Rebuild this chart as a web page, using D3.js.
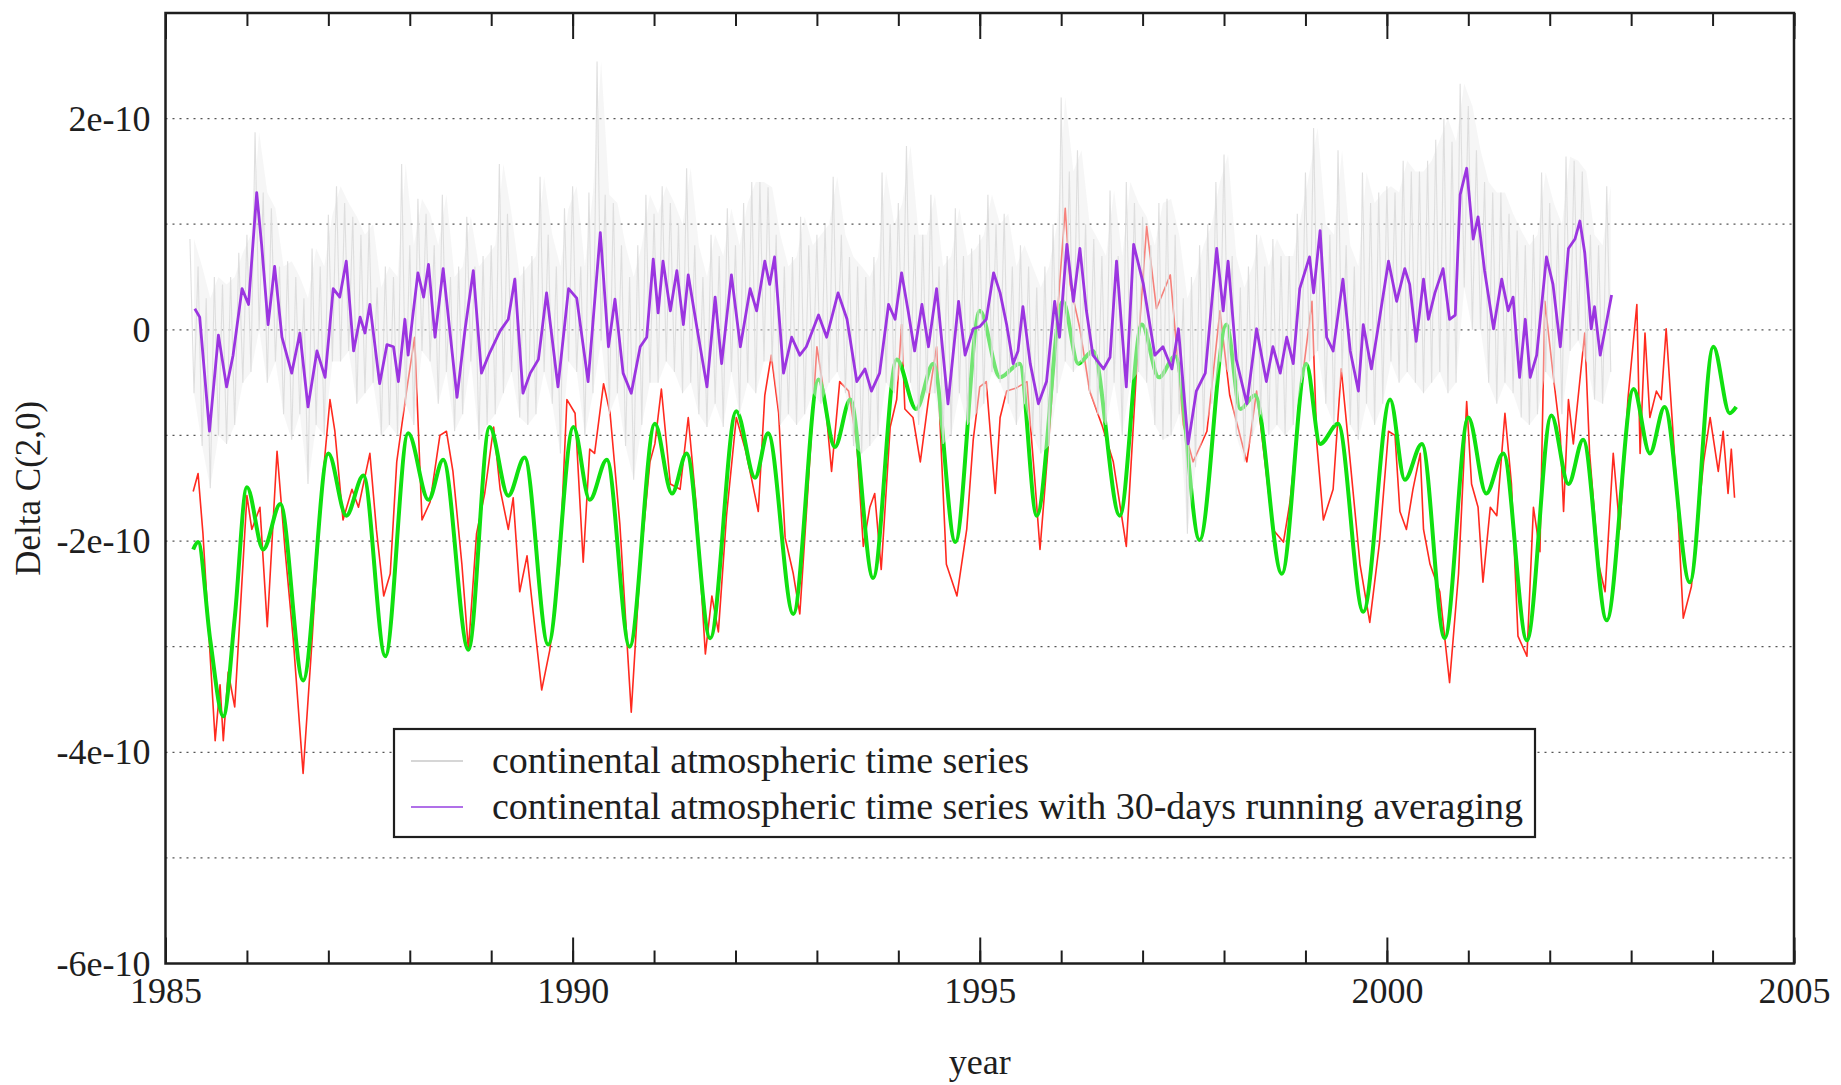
<!DOCTYPE html>
<html>
<head>
<meta charset="utf-8">
<script src="https://cdn.jsdelivr.net/npm/d3@7/dist/d3.min.js"></script>
<style>
  body { margin: 0; background: #fff; }
  svg text { font-family: "Liberation Serif", "DejaVu Serif", serif; fill: #1e1e1e; }
</style>
</head>
<body>
<div id="chart"></div>
<script>
// Valori, in unità di 1e-10
const UNIT = 1e-10;

// Serie grigia (giornaliera): inviluppo alto/basso per intervalli di 0.1 anni
const greyStart = 1985.3;
const greyStep = 0.1;
const greyHigh = [
  0.86, 0.6, 0.3, 0.5, 0.43, 0.5, 0.73,
  0.9, 1.87, 1.3, 1.15, 0.6, 0.65, 0.5, 0.3, 0.77, 0.6,
  1.09, 1.36, 1.2, 1.07, 0.9, 1.0, 0.4, 0.6, 0.5, 1.57,
  0.8, 1.24, 1.1, 0.8, 1.28, 0.5, 0.6, 1.07, 0.6, 0.7,
  0.8, 1.57, 1.1, 0.5, 0.6, 0.7, 1.45, 0.9, 0.6, 1.15,
  1.36, 0.6, 1.3, 2.54, 1.28, 1.2, 0.8, 0.5, 0.8, 1.28,
  1.1, 1.36, 1.2, 1.0, 1.53, 0.8, 0.5, 0.9, 0.7, 1.15,
  0.8, 1.2, 1.4, 1.4, 1.35, 0.9, 0.6, 0.69, 1.07, 0.8,
  0.9, 1.0, 1.45, 0.9, 0.69, 0.6, 0.5, 0.69, 1.49, 1.0,
  1.2, 1.74, 0.9, 0.9, 1.28, 0.6, 0.7, 1.15, 0.7, 0.77,
  0.9, 1.28, 1.0, 1.1, 0.6, 0.8, 0.6, 0.4, 0.6, 1.0,
  2.2, 1.5, 1.7, 1.0, 0.86, 0.7, 1.32, 0.7, 1.4, 1.2,
  1.07, 0.8, 1.2, 1.24, 0.9, 0.3, 0.5, 0.8, 1.0, 1.4,
  1.66, 0.7, 0.4, 0.6, 0.9, 0.6, 0.86, 0.7, 0.7, 1.1,
  1.49, 1.91, 1.0, 0.9, 1.7, 0.8, 0.6, 1.49, 1.2, 1.3,
  1.36, 1.3, 1.6, 1.5, 1.5, 1.6, 1.8, 2.0, 1.78, 2.33,
  2.12, 1.7, 1.4, 1.3, 1.3, 1.1, 0.94, 0.8, 0.9, 1.49,
  1.2, 1.0, 1.64, 1.6, 1.5, 0.9, 0.8, 1.36
];
const greyLow = [
  -0.6, -1.1, -1.5, -1.0, -1.08, -0.9, -0.5,
  -0.4, 0.0, -0.5, -0.3, -0.8, -1.04, -0.8, -1.46, -0.9, -1.0,
  -0.3, -0.3, -0.2, -0.7, -0.6, -0.5, -1.0, -0.9, -1.0, -0.7,
  -0.9, -0.2, -0.3, -0.7, -0.4, -0.96, -0.8, -0.3, -1.04, -0.9,
  -0.8, -0.6, -0.4, -0.83, -0.9, -0.8, -0.4, -0.7, -1.17, -0.3,
  -0.4, -1.0, -0.6, -0.1, -0.8, -0.6, -1.1, -1.42, -0.9, -0.5,
  -0.5, -0.3, -0.4, -0.6, -0.5, -0.8, -0.92, -0.7, -0.92, -0.4,
  -0.8, -0.5, -0.6, -0.3, -0.3, -0.9, -0.8, -0.9, -0.8, -0.6,
  -0.7, -0.5, -0.4, -0.6, -1.1, -1.17, -1.1, -1.0, -0.5, -0.6,
  -0.3, -0.5, -0.9, -0.6, -0.6, -1.08, -1.0, -0.6, -0.9, -0.8,
  -0.7, -0.4, -0.5, -0.7, -0.9, -0.7, -1.0, -1.17, -1.1, -0.6,
  -0.3, -0.4, -0.3, -0.6, -0.8, -0.9, -0.5, -1.0, -0.5, -0.4,
  -0.5, -0.9, -1.04, -1.0, -0.8, -1.93, -1.3, -1.0, -0.7, -0.3,
  -0.4, -1.0, -1.25, -1.0, -0.8, -1.0, -0.9, -1.0, -0.9, -0.5,
  -0.3, -0.2, -0.7, -0.9, -0.4, -0.9, -1.04, -0.7, -0.9, -0.7,
  -0.3, -0.5, -0.4, -0.5, -0.6, -0.5, -0.4, -0.6, -0.5, 0.4,
  0.0, 0.0, -0.5, -0.7, -0.5, -0.6, -0.83, -0.9, -0.8, -0.4,
  -0.5, -0.8, -0.2, -0.1, -0.3, -0.66, -0.7, -0.4
];

// Serie viola: media mobile su 30 giorni [anno, valore]
const purpleSeries = [
  [1985.36,0.20],[1985.42,0.12],[1985.54,-0.96],[1985.65,-0.05],[1985.75,-0.54],[1985.83,-0.24],[1985.94,0.39],
  [1986.02,0.24],[1986.12,1.30],[1986.18,0.81],[1986.26,0.05],[1986.34,0.60],[1986.43,-0.07],[1986.55,-0.41],
  [1986.65,-0.03],[1986.75,-0.73],[1986.86,-0.20],[1986.96,-0.45],[1987.06,0.39],[1987.14,0.31],[1987.22,0.65],
  [1987.31,-0.20],[1987.39,0.12],[1987.45,-0.03],[1987.51,0.24],[1987.63,-0.51],[1987.72,-0.14],[1987.80,-0.16],
  [1987.86,-0.49],[1987.94,0.10],[1987.98,-0.24],[1988.10,0.54],[1988.17,0.31],[1988.23,0.62],[1988.31,-0.07],
  [1988.41,0.58],[1988.58,-0.64],[1988.68,0.01],[1988.78,0.56],[1988.88,-0.41],[1988.98,-0.22],[1989.11,-0.01],
  [1989.21,0.10],[1989.29,0.48],[1989.39,-0.60],[1989.48,-0.41],[1989.58,-0.28],[1989.68,0.35],[1989.74,-0.03],
  [1989.82,-0.54],[1989.95,0.39],[1990.05,0.30],[1990.19,-0.49],[1990.34,0.92],[1990.44,-0.16],[1990.52,0.29],
  [1990.62,-0.41],[1990.72,-0.60],[1990.83,-0.16],[1990.91,-0.07],[1990.99,0.67],[1991.05,0.16],[1991.11,0.65],
  [1991.20,0.18],[1991.28,0.56],[1991.36,0.05],[1991.42,0.52],[1991.52,0.05],[1991.65,-0.54],[1991.75,0.31],
  [1991.83,-0.32],[1991.95,0.52],[1992.06,-0.16],[1992.18,0.39],[1992.26,0.18],[1992.36,0.65],[1992.42,0.43],
  [1992.48,0.69],[1992.59,-0.41],[1992.69,-0.07],[1992.79,-0.24],[1992.87,-0.16],[1993.02,0.14],[1993.12,-0.07],
  [1993.26,0.35],[1993.37,0.10],[1993.49,-0.49],[1993.59,-0.37],[1993.67,-0.58],[1993.77,-0.41],[1993.88,0.24],
  [1993.96,0.10],[1994.04,0.54],[1994.12,0.18],[1994.20,-0.20],[1994.29,0.24],[1994.37,-0.16],[1994.47,0.39],
  [1994.61,-0.70],[1994.74,0.27],[1994.82,-0.24],[1994.92,0.01],[1995.00,0.03],[1995.08,0.10],[1995.17,0.54],
  [1995.25,0.35],[1995.33,0.05],[1995.41,-0.32],[1995.47,-0.20],[1995.53,0.22],[1995.62,-0.32],[1995.72,-0.70],
  [1995.82,-0.49],[1995.92,0.27],[1995.98,-0.07],[1996.07,0.81],[1996.15,0.27],[1996.23,0.77],[1996.31,0.18],
  [1996.39,-0.24],[1996.52,-0.37],[1996.60,-0.26],[1996.68,0.65],[1996.80,-0.54],[1996.89,0.81],[1997.01,0.43],
  [1997.15,-0.24],[1997.25,-0.16],[1997.36,-0.37],[1997.44,0.01],[1997.56,-1.08],[1997.66,-0.58],[1997.77,-0.41],
  [1997.91,0.77],[1997.99,0.18],[1998.05,0.65],[1998.15,-0.28],[1998.28,-0.70],[1998.40,0.01],[1998.52,-0.49],
  [1998.60,-0.16],[1998.69,-0.41],[1998.77,-0.07],[1998.85,-0.32],[1998.93,0.39],[1999.05,0.69],[1999.10,0.35],
  [1999.18,0.94],[1999.26,-0.07],[1999.34,-0.20],[1999.46,0.48],[1999.55,-0.20],[1999.65,-0.58],[1999.71,0.05],
  [1999.81,-0.37],[1999.89,0.01],[2000.02,0.65],[2000.12,0.27],[2000.22,0.58],[2000.28,0.43],[2000.36,-0.11],
  [2000.45,0.48],[2000.51,0.10],[2000.59,0.35],[2000.69,0.58],[2000.77,0.10],[2000.84,0.14],[2000.90,1.28],
  [2000.98,1.53],[2001.06,0.86],[2001.12,1.07],[2001.20,0.56],[2001.31,0.01],[2001.41,0.48],[2001.49,0.18],
  [2001.55,0.31],[2001.63,-0.45],[2001.70,0.10],[2001.76,-0.45],[2001.84,-0.24],[2001.96,0.69],[2002.04,0.43],
  [2002.13,-0.16],[2002.23,0.77],[2002.31,0.86],[2002.37,1.03],[2002.43,0.73],[2002.51,0.01],[2002.55,0.22],
  [2002.62,-0.24],[2002.76,0.33]
];

// Serie rossa [anno, valore]
const redSeries = [
  [1985.34,-1.53],[1985.40,-1.36],[1985.46,-1.93],[1985.61,-3.89],[1985.67,-3.36],[1985.71,-3.89],[1985.77,-3.24],
  [1985.85,-3.57],[1986.00,-1.57],[1986.06,-1.89],[1986.16,-1.68],[1986.25,-2.81],[1986.37,-1.15],[1986.47,-2.10],
  [1986.57,-2.94],[1986.69,-4.20],[1986.80,-2.94],[1986.90,-1.68],[1987.02,-0.66],[1987.08,-0.96],[1987.18,-1.80],
  [1987.29,-1.51],[1987.37,-1.68],[1987.51,-1.17],[1987.59,-1.89],[1987.68,-2.52],[1987.76,-2.31],[1987.84,-1.25],
  [1987.96,-0.58],[1988.06,-0.07],[1988.15,-1.80],[1988.25,-1.63],[1988.37,-1.00],[1988.45,-0.96],[1988.53,-1.34],
  [1988.64,-2.22],[1988.72,-3.03],[1988.82,-1.93],[1988.92,-1.55],[1989.03,-0.92],[1989.11,-1.51],[1989.21,-1.89],
  [1989.27,-1.59],[1989.35,-2.48],[1989.44,-2.14],[1989.62,-3.41],[1989.72,-3.03],[1989.84,-2.22],[1989.93,-0.66],
  [1990.03,-0.79],[1990.13,-2.20],[1990.21,-1.13],[1990.27,-1.17],[1990.38,-0.51],[1990.46,-0.79],[1990.58,-1.84],
  [1990.72,-3.62],[1990.83,-2.22],[1990.95,-1.25],[1991.01,-1.08],[1991.09,-0.56],[1991.20,-1.46],[1991.32,-1.51],
  [1991.42,-0.83],[1991.52,-1.68],[1991.63,-3.07],[1991.71,-2.52],[1991.79,-2.86],[1991.89,-1.76],[1992.01,-0.83],
  [1992.12,-1.13],[1992.20,-1.42],[1992.28,-1.72],[1992.36,-0.62],[1992.44,-0.24],[1992.53,-0.79],[1992.61,-1.97],
  [1992.71,-2.31],[1992.79,-2.69],[1992.89,-1.51],[1993.00,-0.16],[1993.10,-0.66],[1993.18,-1.34],[1993.28,-0.49],
  [1993.39,-0.58],[1993.49,-1.08],[1993.57,-2.05],[1993.65,-1.68],[1993.71,-1.55],[1993.79,-2.27],[1993.90,-0.92],
  [1993.98,-0.66],[1994.04,0.05],[1994.08,-0.75],[1994.18,-0.83],[1994.27,-1.25],[1994.37,-0.66],[1994.47,-0.16],
  [1994.59,-2.22],[1994.72,-2.52],[1994.84,-1.89],[1994.92,-1.04],[1995.00,-0.54],[1995.08,-0.49],[1995.19,-1.55],
  [1995.25,-0.83],[1995.33,-0.58],[1995.45,-0.55],[1995.58,-0.49],[1995.68,-1.46],[1995.74,-2.08],[1995.86,-0.92],
  [1995.98,0.43],[1996.05,1.15],[1996.11,0.43],[1996.23,0.01],[1996.35,-0.58],[1996.50,-0.90],[1996.64,-1.25],
  [1996.80,-2.05],[1996.93,-0.32],[1997.05,0.98],[1997.17,0.20],[1997.34,0.52],[1997.50,-0.90],[1997.62,-1.25],
  [1997.79,-0.96],[1997.95,0.18],[1998.07,-0.62],[1998.28,-1.25],[1998.40,-0.58],[1998.60,-1.89],[1998.73,-2.01],
  [1998.81,-1.63],[1998.97,-0.41],[1999.08,0.27],[1999.14,-1.08],[1999.22,-1.80],[1999.34,-1.51],[1999.44,-0.37],
  [1999.55,-1.25],[1999.67,-2.22],[1999.79,-2.77],[1999.91,-2.01],[2000.02,-0.96],[2000.10,-1.00],[2000.16,-1.72],
  [2000.24,-1.89],[2000.32,-1.51],[2000.41,-1.17],[2000.45,-1.89],[2000.53,-2.22],[2000.65,-2.48],[2000.77,-3.34],
  [2000.88,-2.31],[2000.98,-0.68],[2001.04,-1.46],[2001.12,-1.68],[2001.18,-2.39],[2001.27,-1.68],[2001.35,-1.76],
  [2001.45,-0.79],[2001.53,-1.46],[2001.61,-2.90],[2001.72,-3.09],[2001.80,-1.68],[2001.88,-2.10],[2001.94,0.27],
  [2002.04,-0.41],[2002.13,-1.00],[2002.17,-1.72],[2002.23,-0.66],[2002.29,-1.08],[2002.43,-0.03],[2002.49,-1.17],
  [2002.60,-2.22],[2002.68,-2.48],[2002.78,-1.17],[2002.86,-1.89],[2002.96,-0.66],[2003.07,0.24],[2003.11,-1.17],
  [2003.17,-0.03],[2003.23,-0.83],[2003.31,-0.58],[2003.37,-0.66],[2003.43,0.01],[2003.56,-1.51],[2003.64,-2.73],
  [2003.74,-2.43],[2003.89,-1.25],[2003.97,-0.83],[2004.07,-1.34],[2004.13,-0.96],[2004.19,-1.55],[2004.23,-1.13],
  [2004.27,-1.59]
];

// Serie verde (liscia) [anno, valore]
const greenSeries = [
  [1985.34,-2.08],[1985.40,-2.01],[1985.55,-2.94],[1985.71,-3.66],[1985.85,-2.73],[1986.00,-1.49],[1986.20,-2.08],
  [1986.41,-1.65],[1986.69,-3.32],[1987.00,-1.17],[1987.22,-1.76],[1987.43,-1.38],[1987.70,-3.09],[1987.98,-0.98],
  [1988.23,-1.61],[1988.41,-1.23],[1988.72,-3.03],[1988.98,-0.92],[1989.21,-1.57],[1989.41,-1.21],[1989.70,-2.98],
  [1990.01,-0.92],[1990.21,-1.61],[1990.42,-1.23],[1990.70,-3.00],[1991.01,-0.89],[1991.22,-1.55],[1991.40,-1.17],
  [1991.69,-2.92],[1992.01,-0.77],[1992.24,-1.40],[1992.40,-0.98],[1992.71,-2.69],[1993.02,-0.47],[1993.22,-1.11],
  [1993.41,-0.66],[1993.69,-2.35],[1993.98,-0.28],[1994.22,-0.75],[1994.43,-0.32],[1994.70,-2.01],[1995.00,0.18],
  [1995.25,-0.45],[1995.49,-0.32],[1995.70,-1.76],[1996.02,0.27],[1996.21,-0.32],[1996.39,-0.20],[1996.72,-1.76],
  [1996.99,0.05],[1997.20,-0.45],[1997.40,-0.25],[1997.70,-1.99],[1998.03,0.05],[1998.20,-0.75],[1998.38,-0.62],
  [1998.71,-2.31],[1999.01,-0.32],[1999.18,-1.08],[1999.40,-0.89],[1999.71,-2.67],[2000.04,-0.66],[2000.22,-1.42],
  [2000.43,-1.08],[2000.71,-2.92],[2001.00,-0.83],[2001.22,-1.55],[2001.43,-1.17],[2001.72,-2.94],[2002.02,-0.81],
  [2002.23,-1.46],[2002.41,-1.04],[2002.70,-2.75],[2003.03,-0.56],[2003.23,-1.17],[2003.41,-0.73],[2003.72,-2.39],
  [2004.01,-0.16],[2004.21,-0.79],[2004.29,-0.73]
];

// Assi: etichette e tacche
const xDomain = [1985, 2005];
const yDomain = [-6, 3];
const xMajorTicks = [1985, 1990, 1995, 2000, 2005];
const xMinorTicks = d3.range(1985, 2006);
const yTickValues = [-6, -4, -2, 0, 2];
const yGridValues = [-5, -4, -3, -2, -1, 0, 1, 2];
const legendLabels = [
  "continental atmospheric time series",
  "continental atmospheric time series with 30-days running averaging"
];

// Dimensioni
const width = 1841;
const height = 1085;
const plot = { left: 165.5, right: 1794, top: 13, bottom: 963.5 };

const x = d3.scaleLinear().domain(xDomain).range([plot.left, plot.right]);
const y = d3.scaleLinear().domain(yDomain).range([plot.bottom, plot.top]);

const svg = d3.select("#chart").append("svg")
  .attr("width", width).attr("height", height);

svg.append("rect").attr("width", width).attr("height", height).attr("fill", "#fff");

// Griglia orizzontale tratteggiata
svg.append("g").selectAll("line")
  .data(yGridValues)
  .join("line")
  .attr("x1", plot.left).attr("x2", plot.right)
  .attr("y1", (d) => y(d)).attr("y2", (d) => y(d))
  .attr("stroke", "#555")
  .attr("stroke-width", 1.3)
  .attr("stroke-dasharray", "2,5");

const line = d3.line().x((d) => x(d[0])).y((d) => y(d[1]));

// Serie rossa
svg.append("path")
  .datum(redSeries)
  .attr("d", line)
  .attr("fill", "none")
  .attr("stroke", "#ff2a1f")
  .attr("stroke-width", 1.6)
  .attr("stroke-linejoin", "round");

// Serie verde
svg.append("path")
  .datum(greenSeries)
  .attr("d", line.curve(d3.curveMonotoneX))
  .attr("fill", "none")
  .attr("stroke", "#10e010")
  .attr("stroke-width", 4);
line.curve(d3.curveLinear);

// Serie grigia: banda leggera + zig-zag tra massimi e minimi
const greyBins = greyHigh.map((h, i) => ({
  t: greyStart + i * greyStep,
  hi: h,
  lo: greyLow[i]
}));

svg.append("path")
  .datum(greyBins)
  .attr("d", d3.area()
    .x((d) => x(d.t + greyStep / 2))
    .y0((d) => y(d.lo))
    .y1((d) => y(d.hi)))
  .attr("fill", "#ececec")
  .attr("fill-opacity", 0.45);

const greyZigzag = [];
greyBins.forEach((d) => {
  greyZigzag.push([d.t, d.hi]);
  greyZigzag.push([d.t + greyStep / 2, d.lo]);
});

svg.append("path")
  .datum(greyZigzag)
  .attr("d", line)
  .attr("fill", "none")
  .attr("stroke", "#dcdcdc")
  .attr("stroke-opacity", 0.9)
  .attr("stroke-width", 1.1);

// Serie viola
svg.append("path")
  .datum(purpleSeries)
  .attr("d", line)
  .attr("fill", "none")
  .attr("stroke", "#9b35e0")
  .attr("stroke-width", 2.8)
  .attr("stroke-linejoin", "round");

// Cornice
svg.append("rect")
  .attr("x", plot.left).attr("y", plot.top)
  .attr("width", plot.right - plot.left)
  .attr("height", plot.bottom - plot.top)
  .attr("fill", "none")
  .attr("stroke", "#1e1e1e")
  .attr("stroke-width", 2.5);

// Tacche asse x (sotto e sopra, verso l'interno)
function styleAxis(g) {
  g.select(".domain").remove();
  g.selectAll("line").attr("stroke", "#1e1e1e").attr("stroke-width", 2);
  g.selectAll("text")
    .attr("fill", "#1e1e1e")
    .style("font-family", '"Liberation Serif", "DejaVu Serif", serif')
    .style("font-size", "36px");
}

svg.append("g")
  .attr("transform", `translate(0,${plot.bottom})`)
  .call(d3.axisBottom(x).tickValues(xMinorTicks).tickSize(-13).tickFormat(""))
  .call(styleAxis);

svg.append("g")
  .attr("transform", `translate(0,${plot.bottom})`)
  .call(d3.axisBottom(x).tickValues(xMajorTicks).tickSize(-26).tickPadding(14).tickFormat(d3.format("d")))
  .call(styleAxis);

svg.append("g")
  .attr("transform", `translate(0,${plot.top})`)
  .call(d3.axisTop(x).tickValues(xMinorTicks).tickSize(-13).tickFormat(""))
  .call(styleAxis);

svg.append("g")
  .attr("transform", `translate(0,${plot.top})`)
  .call(d3.axisTop(x).tickValues(xMajorTicks).tickSize(-26).tickFormat(""))
  .call(styleAxis);

// Asse y: solo etichette
svg.append("g")
  .attr("transform", `translate(${plot.left},0)`)
  .call(d3.axisLeft(y).tickValues(yTickValues).tickSize(0).tickPadding(15)
    .tickFormat((d) => (d === 0 ? "0" : `${d}e-10`)))
  .call(styleAxis);

// Titoli degli assi
svg.append("text")
  .attr("x", (plot.left + plot.right) / 2)
  .attr("y", 1074)
  .attr("text-anchor", "middle")
  .style("font-size", "36px")
  .text("year");

svg.append("text")
  .attr("transform", `translate(40,${(plot.top + plot.bottom) / 2}) rotate(-90)`)
  .attr("text-anchor", "middle")
  .style("font-size", "35px")
  .text("Delta C(2,0)");

// Legenda
const legend = svg.append("g");
legend.append("rect")
  .attr("x", 394).attr("y", 729)
  .attr("width", 1141).attr("height", 108)
  .attr("fill", "#fff")
  .attr("stroke", "#1e1e1e")
  .attr("stroke-width", 2.2);

const legendColors = ["#d6d6d6", "#b070e8"];
const legendRows = [761, 807];

legendLabels.forEach((label, i) => {
  legend.append("line")
    .attr("x1", 411).attr("x2", 463)
    .attr("y1", legendRows[i]).attr("y2", legendRows[i])
    .attr("stroke", legendColors[i])
    .attr("stroke-width", 2);
});

const legendText = legend.selectAll("text.lab")
  .data(legendLabels)
  .join("text")
  .attr("class", "lab")
  .attr("x", 492)
  .attr("y", (d, i) => legendRows[i])
  .attr("dy", "0.32em")
  .style("font-size", "36px")
  .text((d) => d);

// adatta la dimensione del testo alla larghezza del riquadro
const longest = legendText.nodes()[1].getComputedTextLength();
const fitSize = 36 * 1031 / longest;
legendText.style("font-size", fitSize + "px");
</script>
</body>
</html>
